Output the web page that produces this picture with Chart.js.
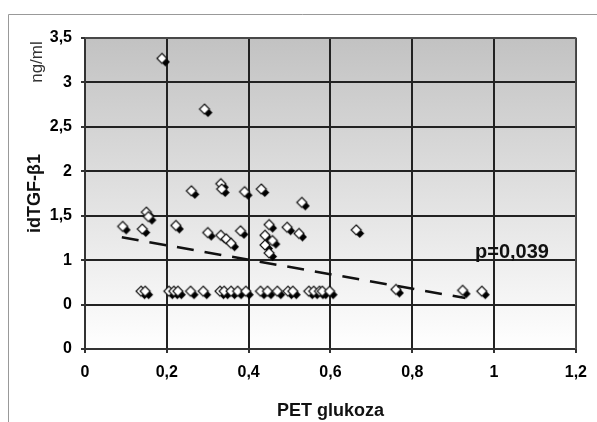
<!DOCTYPE html>
<html>
<head>
<meta charset="utf-8">
<script src="https://cdn.jsdelivr.net/npm/chart.js@4.4.0/dist/chart.umd.min.js"></script>
<style>
    html, body { margin: 0; padding: 0; background: #fff; }
    #wrap { position: relative; width: 597px; height: 422px; }
</style>
</head>
<body>
<div id="wrap"><canvas id="chart" width="597" height="422"></canvas></div>
<script>
// PET glukoza (x) vs idTGF-b1 (y)
const glukoza = [
    0.188, 0.292, 0.26, 0.332, 0.334, 0.39, 0.431, 0.53, 0.15, 0.155,
    0.092, 0.14, 0.222, 0.30, 0.332, 0.345, 0.357, 0.38, 0.45, 0.494,
    0.44, 0.458, 0.44, 0.45, 0.523, 0.663, 0.76, 0.923, 0.97,
    0.137, 0.147, 0.205, 0.217, 0.227, 0.258, 0.289, 0.330, 0.340, 0.357,
    0.373, 0.393, 0.429, 0.446, 0.470, 0.496, 0.508, 0.547, 0.559, 0.573,
    0.58, 0.598
];
const tgf = [
    3.27, 2.70, 1.78, 1.86, 1.80, 1.77, 1.80, 1.65, 1.54, 1.49,
    1.38, 1.35, 1.39, 1.31, 1.28, 1.24, 1.19, 1.33, 1.40, 1.37,
    1.28, 1.22, 1.17, 1.08, 1.30, 1.34, 0.67, 0.66, 0.65,
    0.65, 0.65, 0.65, 0.65, 0.65, 0.65, 0.65, 0.65, 0.65, 0.65,
    0.65, 0.65, 0.65, 0.65, 0.65, 0.65, 0.65, 0.65, 0.65, 0.65,
    0.65, 0.65
];
const trendX = [0.09, 0.93];
const trendY = [1.257, 0.573];

const xTickLabels = ['0', '0,2', '0,4', '0,6', '0,8', '1', '1,2'];
const yTickLabels = ['0', '0', '1', '1,5', '2', '2,5', '3', '3,5'];
const xTitle = 'PET glukoza';
const yTitle = 'idTGF-β1';
const yUnit = 'ng/ml';
const pLabel = 'p=0,039';

// diamond marker with a dark shadow
function makeMarker() {
    const c = document.createElement('canvas');
    c.width = 22; c.height = 22;
    const g = c.getContext('2d');
    const diamond = (cx, cy, r) => {
        g.beginPath();
        g.moveTo(cx, cy - r); g.lineTo(cx + r, cy);
        g.lineTo(cx, cy + r); g.lineTo(cx - r, cy);
        g.closePath();
    };
    diamond(14.5, 14.5, 4.5);
    g.fillStyle = '#000';
    g.fill();
    diamond(11, 11, 5);
    g.fillStyle = '#fff';
    g.fill();
    g.lineWidth = 1.2;
    g.strokeStyle = '#111';
    g.stroke();
    return c;
}

const backdrop = {
    id: 'backdrop',
    beforeDraw(chart) {
        const { ctx, chartArea: a } = chart;
        ctx.save();
        // outer frame
        ctx.strokeStyle = '#999';
        ctx.lineWidth = 1;
        ctx.beginPath();
        ctx.moveTo(8.5, 422); ctx.lineTo(8.5, 14.5); ctx.lineTo(597, 14.5);
        ctx.stroke();
        // plot gradient
        const grad = ctx.createLinearGradient(0, a.top, 0, a.bottom);
        grad.addColorStop(0, '#c2c2c2');
        grad.addColorStop(1, '#ffffff');
        ctx.fillStyle = grad;
        ctx.fillRect(a.left, a.top, a.right - a.left, a.bottom - a.top);
        ctx.restore();
    },
    beforeDatasetsDraw(chart) {
        const { ctx, chartArea: a } = chart;
        ctx.save();
        ctx.strokeStyle = '#555';
        ctx.lineWidth = 1.5;
        ctx.beginPath();
        ctx.moveTo(a.left, a.top); ctx.lineTo(a.right, a.top); ctx.lineTo(a.right, a.bottom);
        ctx.stroke();
        ctx.restore();
    },
    afterDraw(chart) {
        const { ctx } = chart;
        ctx.save();
        ctx.fillStyle = '#111';
        ctx.font = 'bold 20px "Liberation Sans", Arial, sans-serif';
        ctx.textBaseline = 'alphabetic';
        ctx.fillText(pLabel, 475, 258);
        ctx.translate(37, 62);
        ctx.rotate(-Math.PI / 2);
        ctx.font = '17px "Liberation Sans", Arial, sans-serif';
        ctx.fillStyle = '#333';
        ctx.textAlign = 'center';
        ctx.textBaseline = 'middle';
        ctx.fillText(yUnit, 0, 0);
        ctx.restore();
    }
};

const tickFont = { family: '"Liberation Sans", Arial, sans-serif', size: 16, weight: 'bold' };
const titleFont = { family: '"Liberation Sans", Arial, sans-serif', size: 18, weight: 'bold' };

new Chart(document.getElementById('chart'), {
    type: 'scatter',
    data: {
        datasets: [{
            type: 'line',
            data: trendX.map((x, i) => ({ x: x, y: trendY[i] })),
            borderColor: '#111',
            borderWidth: 2.5,
            borderDash: [17, 11],
            pointRadius: 0,
            fill: false
        }, {
            data: glukoza.map((x, i) => ({ x: x, y: tgf[i] })),
            pointStyle: makeMarker(),
            pointRadius: 6,
            pointHoverRadius: 6
        }]
    },
    options: {
        responsive: false,
        animation: false,
        events: [],
        layout: { padding: { top: 38, right: 14, left: 0, bottom: 0 } },
        plugins: { legend: { display: false }, tooltip: { enabled: false } },
        scales: {
            x: {
                type: 'linear',
                min: 0, max: 1.2,
                afterFit: s => { s.height = 73; },
                ticks: {
                    stepSize: 0.2,
                    padding: 10,
                    color: '#000',
                    font: tickFont,
                    callback: (v, i) => xTickLabels[i]
                },
                grid: {
                    color: '#222',
                    lineWidth: 2,
                    borderDash: [5, 3],
                    tickLength: 4,
                    tickBorderDash: [],
                    tickColor: '#333'
                },
                border: { color: '#333', width: 2 },
                title: { display: true, text: xTitle, color: '#111', font: titleFont, padding: { top: 4, bottom: 0 } }
            },
            y: {
                type: 'linear',
                min: 0, max: 3.5,
                afterFit: s => { s.width = 85; },
                ticks: {
                    stepSize: 0.5,
                    padding: 9,
                    color: '#000',
                    font: tickFont,
                    callback: (v, i) => yTickLabels[i]
                },
                grid: {
                    color: '#222',
                    lineWidth: 2,
                    borderDash: [5, 3],
                    tickLength: 4,
                    tickBorderDash: [],
                    tickColor: '#333'
                },
                border: { color: '#333', width: 2 },
                title: { display: true, text: yTitle, color: '#111', font: titleFont, padding: { top: 24, bottom: 0 } }
            }
        }
    },
    plugins: [backdrop]
});
</script>
</body>
</html>
